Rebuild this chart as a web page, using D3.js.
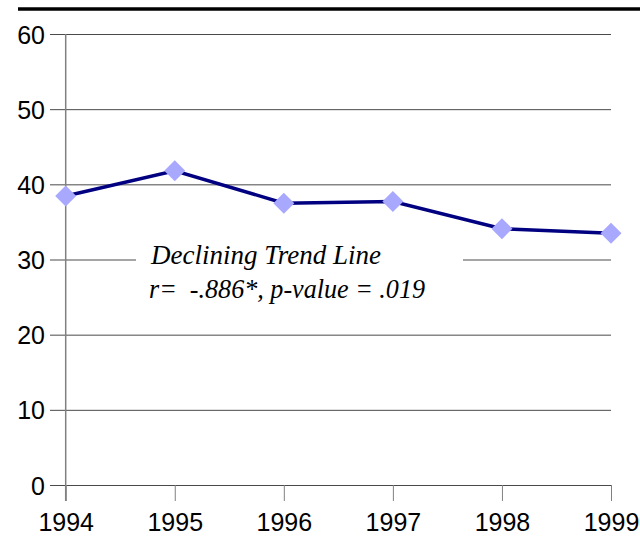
<!DOCTYPE html>
<html><head><meta charset="utf-8">
<script src="https://cdn.jsdelivr.net/npm/d3@7"></script>
<style>body{margin:0;background:#fff}svg{display:block}text{white-space:pre}</style>
</head><body>
<script>
const years = ["1994","1995","1996","1997","1998","1999"];
const values = [38.45, 41.8, 37.5, 37.7, 34.1, 33.5];
const yTicks = [0,10,20,30,40,50,60];
const noteLines = ["Declining Trend Line", "r=  -.886*, p-value = .019"];

const W = 640, H = 538;
const svg = d3.select("body").append("svg").attr("width", W).attr("height", H);

const x = d3.scalePoint().domain(years).range([65.7, 611]);
const y = d3.scaleLinear().domain([0, 60]).range([485, 34]);

// top rule
svg.append("line").attr("x1", 18).attr("x2", 640).attr("y1", 9).attr("y2", 9)
  .attr("stroke", "#000").attr("stroke-width", 3.5);

// gridlines + y ticks
const yAxis = d3.axisLeft(y).tickValues(yTicks).tickSize(-(611 - 50)).tickPadding(6).tickFormat(d3.format("d"));
const gy = svg.append("g").attr("transform", "translate(50,0)").call(yAxis);
gy.select(".domain").remove();
gy.selectAll(".tick line").attr("stroke", "#4a4a4a").attr("stroke-width", 1);
gy.selectAll(".tick text").attr("font-family", "Liberation Sans, Arial, sans-serif")
  .attr("font-size", 25).attr("fill", "#000").attr("x", -5).attr("dy", "0.36em");

// x axis ticks
const xAxis = d3.axisBottom(x).tickSize(16).tickPadding(12);
const gx = svg.append("g").attr("transform", "translate(0,485)").call(xAxis);
gx.select(".domain").remove();
gx.selectAll(".tick line").attr("stroke", "#808080").attr("stroke-width", 1);
gx.selectAll(".tick text").attr("font-family", "Liberation Sans, Arial, sans-serif")
  .attr("font-size", 25).attr("fill", "#000");

// y axis line
svg.append("line").attr("x1", x(years[0])).attr("x2", x(years[0]))
  .attr("y1", y(60)).attr("y2", 501).attr("stroke", "#808080").attr("stroke-width", 1.5);

// white box behind annotation
svg.append("rect").attr("x", 136).attr("y", 238).attr("width", 327).attr("height", 66).attr("fill", "#fff");

const note = svg.append("g").attr("font-family", "Liberation Serif, Times New Roman, serif")
  .attr("font-style", "italic").attr("font-size", 27).attr("fill", "#000");
note.append("text").attr("x", 151).attr("y", 264).text(noteLines[0]);
note.append("text").attr("x", 149).attr("y", 298)
  .attr("textLength", 276).attr("lengthAdjust", "spacingAndGlyphs").text(noteLines[1]);

// line
const line = d3.line().x((d, i) => x(years[i])).y(d => y(d));
svg.append("path").datum(values).attr("d", line).attr("fill", "none")
  .attr("stroke", "#000080").attr("stroke-width", 3.5);

// markers
svg.selectAll(".m").data(values).enter().append("path")
  .attr("transform", (d, i) => `translate(${x(years[i])},${y(d)})`)
  .attr("d", "M0,-10.5L10.5,0L0,10.5L-10.5,0Z").attr("fill", "#a8a8ff");
</script>
</body></html>
